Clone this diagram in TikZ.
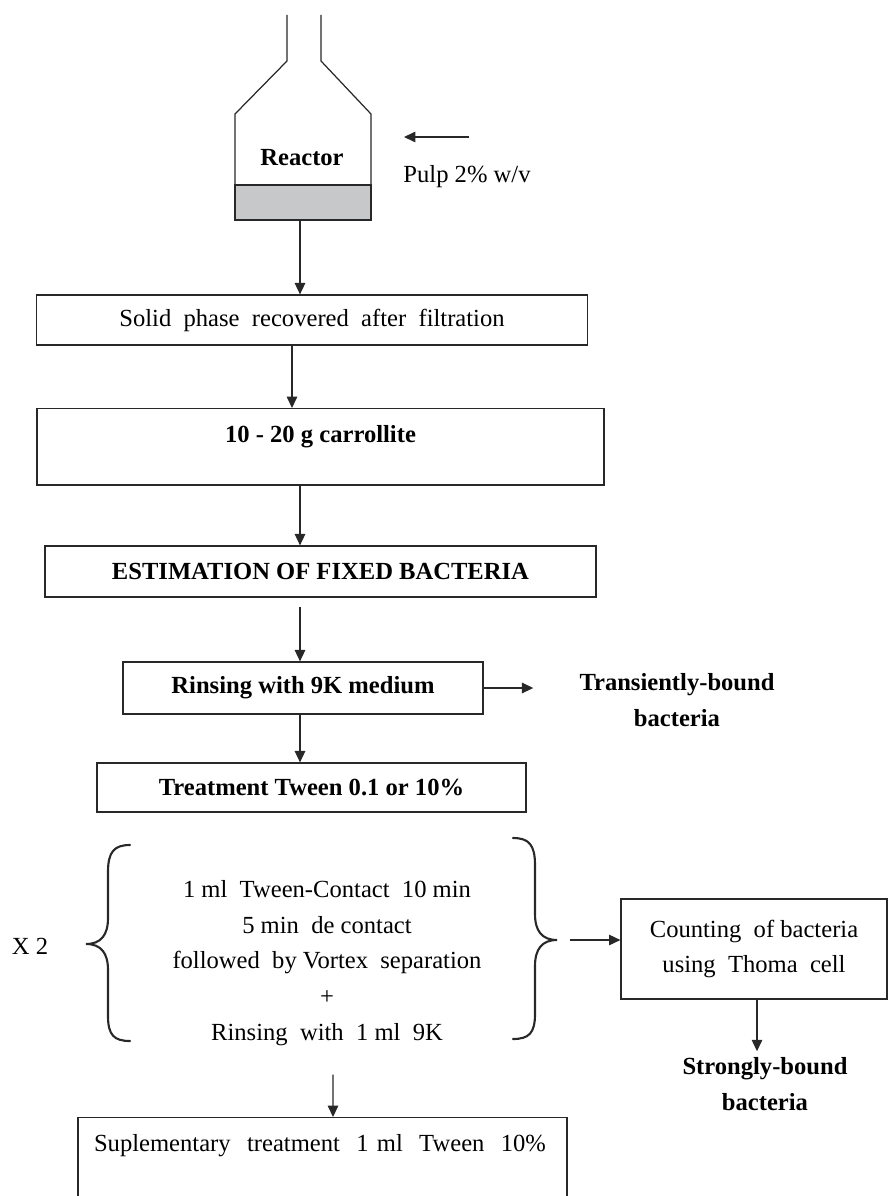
\documentclass[tikz,border=0pt]{standalone}
\usepackage{fontspec}
\setmainfont{Liberation Serif}
\usepackage{xcolor}
\usetikzlibrary{arrows.meta,positioning,calc}

\definecolor{ink}{RGB}{40,40,40}
\definecolor{bandgray}{RGB}{199,200,202}

\begin{document}
\begin{tikzpicture}[
  x=0.02cm, y=-0.02cm,
  >={Triangle[length=6.5pt,width=6pt]},
  font=\fontsize{14}{20.4}\selectfont,
  stepbox/.style={rectangle, draw=ink, line width=0.7pt},
  tallbox/.style={stepbox, anchor=north, text height=10pt, inner ysep=9pt},
  flow/.style={->, line width=0.7pt, ink},
  vessel/.style={line width=0.7pt, ink},
  curly/.style={line width=1.2pt, ink, line cap=round},
  tag/.style={align=center, font=\fontsize{14}{20.4}\selectfont\bfseries},
]
\useasboundingbox (0,0) rectangle (889,1196);
\clip (0,0) rectangle (889,1196);

% Reactor with its settled solid layer
\draw[vessel] (287,15) -- (287,61) -- (235,114) -- (235,185);
\draw[vessel] (371,185) -- (371,114) -- (321,61) -- (321,15);
\filldraw[vessel, fill=bandgray] (235,185) rectangle (371,220);
\node[font=\fontsize{14}{20.4}\selectfont\bfseries] (reactor) at (302,158) {Reactor};
\coordinate (rout) at (300,220);

% Pulp feed
\coordinate (pin) at (469,137);
\coordinate (pout) at (404,137);
\draw[flow] (pin) -- (pout);
\node (pulp) at (467,177) {Pulp 2\% w/v};

% Main chain of steps
\node[stepbox, minimum width=11.02cm, minimum height=1cm] (solid) at (312,320)
  {Solid \ phase \ recovered \ after \ filtration};
\node[tallbox, minimum width=11.34cm, text depth=15.5pt, font=\fontsize{14}{20.4}\selectfont\bfseries]
  (carr) at (320.5,408) {10 - 20 g carrollite};
\node[stepbox, minimum width=11.02cm, minimum height=1.02cm, font=\fontsize{14}{20.4}\selectfont\bfseries]
  (estim) at (320.5,571.5) {ESTIMATION OF FIXED BACTERIA};
\node[stepbox, minimum width=7.2cm, minimum height=1.04cm, font=\fontsize{14}{20.4}\selectfont\bfseries]
  (rins) at (303,688) {Rinsing with 9K medium};
\node[tag] (trans) at (677,700) {Transiently-bound\\bacteria};
\node[stepbox, minimum width=8.58cm, minimum height=0.98cm, font=\fontsize{14}{20.4}\selectfont\bfseries]
  (treat) at (311.5,787.5) {Treatment Tween 0.1 or 10\%};

% Repeated Tween cycle (x2)
\node[align=center] (cycle) at (327,963)
  {1 ml \ Tween-Contact \ 10 min\\5 min \ de contact\\followed \ by Vortex \ separation\\+\\Rinsing \ with \ 1 ml \ 9K};
\draw[curly] (130,845) .. controls (114,845) and (108,852) .. (108,872)
  -- (108,918) .. controls (108,935) and (101,944) .. (86,944)
  .. controls (101,944) and (108,953) .. (108,970)
  -- (108,1016) .. controls (108,1035) and (114,1041) .. (130,1041);
\draw[curly] (513,838) .. controls (529,838) and (535,845) .. (535,865)
  -- (535,914) .. controls (535,931) and (542,940) .. (557,940)
  .. controls (542,940) and (535,949) .. (535,966)
  -- (535,1014) .. controls (535,1033) and (529,1039) .. (513,1039);
\node (times) at (30,946) {X 2};
\coordinate (bout) at (570,940);

\node[stepbox, minimum width=5.32cm, minimum height=2cm, align=center] (count) at (754,949)
  {Counting \ of bacteria\\using \ Thoma \ cell};
\node[tag] (strong) at (765,1084) {Strongly-bound\\bacteria};

\node[tallbox, text width=9.14cm, inner xsep=0.32cm, align=left, text depth=60pt]
  (sup) at (322.5,1117) {Suplementary \ treatment \ 1 ml \ Tween \ 10\%};

% Arrows
\draw[flow] (rout) -- (rout |- solid.north);
\draw[flow] ($(solid.south)+(-20,0)$) -- ($(carr.north)+(-28.5,0)$);
\draw[flow] ($(carr.south)+(-20.5,0)$) -- ($(estim.north)+(-20.5,0)$);
\draw[flow, shorten <=0.18cm] ($(estim.south)+(-20.5,0)$) -- ($(rins.north)+(-3,0)$);
\draw[flow] ($(rins.south)+(-3,0)$) -- ($(treat.north)+(-11.5,0)$);
\draw[flow, shorten >=0.8cm] (rins.east) -- (rins.east -| trans.west);
\draw[flow] (bout) -- (bout -| count.west);
\draw[flow] ($(count.south)+(3,0)$) -- ($(strong.north)+(-8,0)$);
\draw[flow, shorten <=0.45cm] ($(cycle.south)+(6,0)$) -- ($(sup.north)+(10.5,0)$);

\end{tikzpicture}
\end{document}
